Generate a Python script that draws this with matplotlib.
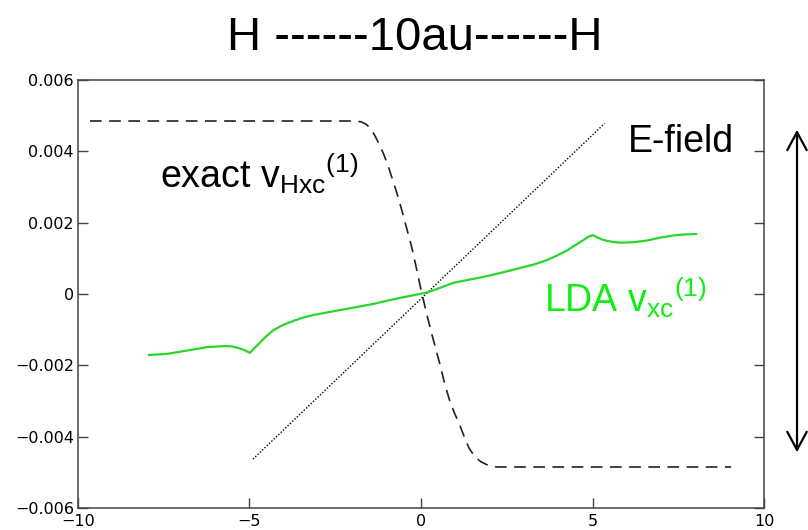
import matplotlib
matplotlib.use("Agg")
import matplotlib.pyplot as plt

# exact v_Hxc^(1) (dashed)
exact_x = [-9.65, -2.0, -1.75, -1.60, -1.48, -1.36, -1.22, -1.08, -0.95, -0.82, -0.70, -0.56,
           -0.42, -0.28, -0.14, 0.0, 0.14, 0.28, 0.42, 0.56, 0.70, 0.84, 0.98, 1.12, 1.26,
           1.40, 1.56, 1.74, 1.95, 2.20, 2.63, 9.04]
exact_y = [0.00485, 0.00485, 0.00483, 0.00476, 0.00465, 0.00447, 0.00420, 0.00390, 0.00357,
           0.00318, 0.00282, 0.00235, 0.00185, 0.00135, 0.00075, 0.00012, -0.00045, -0.00100,
           -0.00150, -0.00200, -0.00255, -0.00300, -0.00335, -0.00365, -0.00400, -0.00432,
           -0.00455, -0.00470, -0.00480, -0.00485, -0.00485, -0.00485]

# E-field (dotted)
field_x = [-4.9, 5.35]
field_y = [-0.00463, 0.00478]

# LDA v_xc^(1) (green)
lda_x = [-7.93, -7.41, -6.73, -6.24, -5.71, -5.51, -5.34, -5.13, -4.99, -4.84, -4.69, -4.55,
         -4.31, -4.05, -3.82, -3.50, -3.15, -2.75, -2.36, -1.90, -1.40, -1.00, -0.61, -0.20,
         0.17, 0.55, 0.93, 1.40, 1.92, 2.40, 2.89, 3.30, 3.67, 3.97, 4.26, 4.43, 4.60, 4.75,
         4.87, 5.01, 5.13, 5.28, 5.42, 5.60, 5.80, 6.18, 6.59, 6.97, 7.35, 7.70, 8.02]
lda_y = [-0.00171, -0.00168, -0.00157, -0.00149, -0.00146, -0.00147, -0.00151, -0.00158,
         -0.00165, -0.00150, -0.00136, -0.00122, -0.00102, -0.00088, -0.00079, -0.00068,
         -0.00059, -0.00052, -0.00045, -0.00037, -0.00028, -0.00019, -0.00011, -0.00003,
         0.00004, 0.00017, 0.00031, 0.00040, 0.00050, 0.00061, 0.00073, 0.00083, 0.00095,
         0.00108, 0.00122, 0.00133, 0.00143, 0.00152, 0.00160, 0.00165, 0.00159, 0.00153,
         0.00149, 0.00146, 0.00144, 0.00145, 0.00150, 0.00158, 0.00164, 0.00167, 0.00168]

xticks = [-10, -5, 0, 5, 10]
yticks = [-0.006, -0.004, -0.002, 0, 0.002, 0.004, 0.006]
xtick_labels = ["\u221210", "\u22125", "0", "5", "10"]
ytick_labels = ["\u22120.006", "\u22120.004", "\u22120.002", "0", "0.002", "0.004", "0.006"]

plt.rcParams['mathtext.fontset'] = 'custom'
plt.rcParams['mathtext.rm'] = 'Liberation Sans'
plt.rcParams['mathtext.it'] = 'Liberation Sans'
plt.rcParams['font.family'] = ['Liberation Sans', 'DejaVu Sans']

fig = plt.figure(figsize=(8.08, 5.30), dpi=100)
ax = fig.add_axes([78/808, 22/530, (764-78)/808, (508-80)/530])

ax.plot(exact_x, exact_y, color='#222222', lw=1.2, dashes=(7, 4.5))
ax.plot(field_x, field_y, color='black', lw=1.0, linestyle=(0, (1, 1.3)))
ax.plot(lda_x, lda_y, color='#2ad62a', lw=1.6)

ax.set_xlim(-10, 10)
ax.set_ylim(-0.006, 0.006)
ax.set_xticks(xticks)
ax.set_xticklabels(xtick_labels)
ax.set_yticks(yticks)
ax.set_yticklabels(ytick_labels)
ax.tick_params(direction='in', length=7, width=1.0, color='#444444',
               right=True, top=False, labelsize=11.5, pad=3)
ax.tick_params(axis='x', pad=4)
for lab in ax.get_xticklabels() + ax.get_yticklabels():
    lab.set_family(['Liberation Sans Narrow', 'DejaVu Sans'])
for s in ax.spines.values():
    s.set_color('#444444')
    s.set_linewidth(1.1)

fig.text(0.513, 0.928, "H ------10au------H", fontsize=34, ha='center', va='center')
ax.text(-7.6, 0.00297, r'exact v$_{\mathrm{Hxc}}$$^{\mathrm{(1)}}$', fontsize=27,
        ha='left', va='baseline', color='black')
ax.text(6.03, 0.00398, 'E-field', fontsize=27, ha='left', va='baseline', color='black')
ax.text(3.6, -0.0005, r'LDA v$_{\mathrm{xc}}$$^{\mathrm{(1)}}$', fontsize=27,
        ha='left', va='baseline', color='#11ee11')

fig.patches.append(matplotlib.patches.FancyArrowPatch(
    (797/808, 1 - 127/530), (797/808, 1 - 455/530), transform=fig.transFigure,
    arrowstyle='<->,head_length=13,head_width=7', lw=1.6, color='black'))

fig.savefig('out.png', dpi=100)
